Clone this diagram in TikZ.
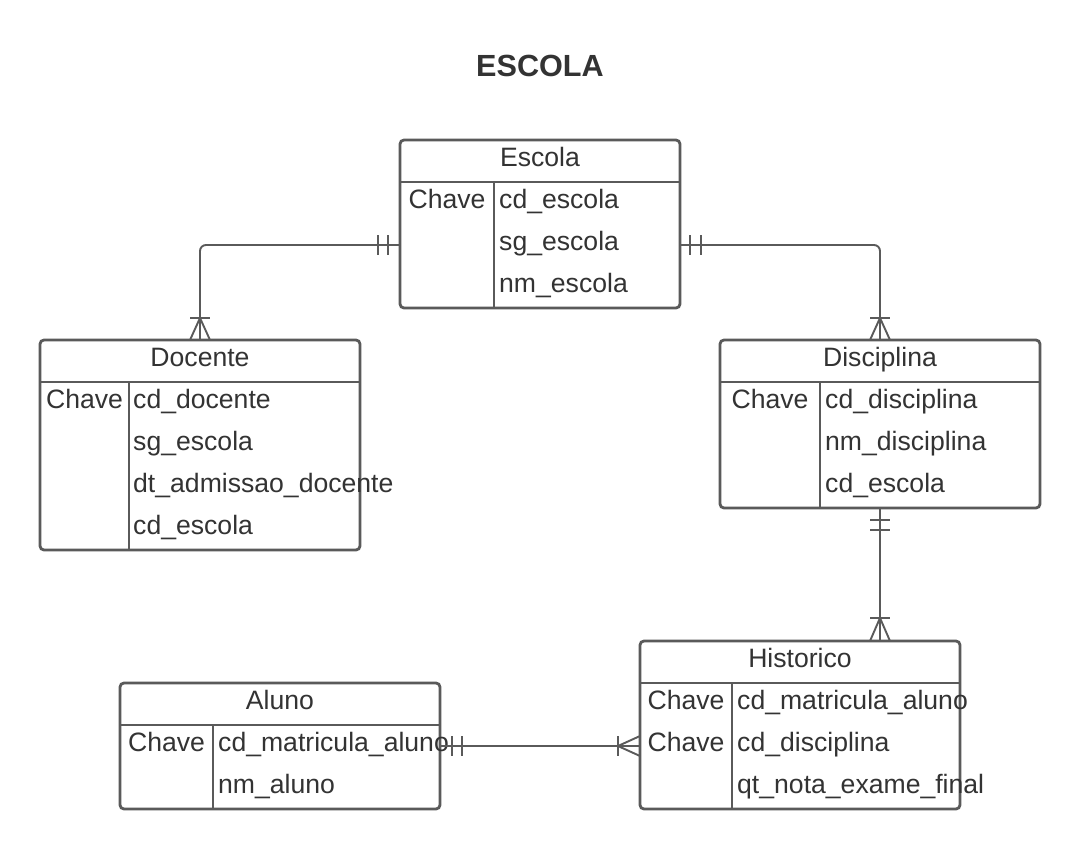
\documentclass[tikz,border=0pt]{standalone}
\usepackage{fontspec}
\setmainfont{Liberation Sans}
\usetikzlibrary{calc}
\definecolor{lc}{HTML}{5A5A5A}
\definecolor{tc}{HTML}{333333}
\begin{document}
\begin{tikzpicture}[x=1pt,y=-1pt,
  ent/.style={draw=lc, line width=2.8pt, rounded corners=4pt, inner sep=0pt, outer sep=0pt, anchor=north west},
  sep/.style={draw=lc, line width=2.8pt},
  hdr/.style={font=\fontsize{26.6}{30}\selectfont, text=tc, anchor=base, inner sep=0pt},
  keyt/.style={font=\fontsize{26.6}{30}\selectfont, text=tc, anchor=base, inner sep=0pt},
  fld/.style={font=\fontsize{26.6}{30}\selectfont, text=tc, anchor=base west, inner sep=0pt},
  rel/.style={draw=lc, line width=1.9pt},
  ttl/.style={font=\fontsize{30.6}{34}\selectfont\bfseries, text=tc, anchor=base, inner sep=0pt}
]
\useasboundingbox[fill=white] (0,0) rectangle (1080,849);

\node[ttl] (title) at (540,76) {ESCOLA};

% Escola
\node[ent, minimum width=280pt, minimum height=168pt] (escola) at (400,140) {};
\draw[sep] (400,182) -- (680,182);
\draw[sep] (494,182) -- (494,308);
\node[hdr] (escolaH) at (540,166) {Escola};
\node[keyt] (escolaK) at (447,208) {Chave};
\node[fld] (escolaF1) at (499,208) {cd\_escola};
\node[fld] (escolaF2) at (499,250) {sg\_escola};
\node[fld] (escolaF3) at (499,292) {nm\_escola};

% Docente
\node[ent, minimum width=320pt, minimum height=210pt] (docente) at (40,340) {};
\draw[sep] (40,382) -- (360,382);
\draw[sep] (129,382) -- (129,550);
\node[hdr] (docenteH) at (200,366) {Docente};
\node[keyt] (docenteK) at (84.5,408) {Chave};
\node[fld] (docenteF1) at (133,408) {cd\_docente};
\node[fld] (docenteF2) at (133,450) {sg\_escola};
\node[fld] (docenteF3) at (133,492) {dt\_admissao\_docente};
\node[fld] (docenteF4) at (133,534) {cd\_escola};

% Disciplina
\node[ent, minimum width=320pt, minimum height=168pt] (disciplina) at (720,340) {};
\draw[sep] (720,382) -- (1040,382);
\draw[sep] (820,382) -- (820,508);
\node[hdr] (disciplinaH) at (880,366) {Disciplina};
\node[keyt] (disciplinaK) at (770,408) {Chave};
\node[fld] (disciplinaF1) at (825,408) {cd\_disciplina};
\node[fld] (disciplinaF2) at (825,450) {nm\_disciplina};
\node[fld] (disciplinaF3) at (825,492) {cd\_escola};

% Historico
\node[ent, minimum width=320pt, minimum height=168pt] (historico) at (640,641) {};
\draw[sep] (640,683) -- (960,683);
\draw[sep] (732,683) -- (732,809);
\node[hdr] (historicoH) at (800,667) {Historico};
\node[keyt] (historicoK1) at (686,709) {Chave};
\node[keyt] (historicoK2) at (686,751) {Chave};
\node[fld] (historicoF1) at (737,709) {cd\_matricula\_aluno};
\node[fld] (historicoF2) at (737,751) {cd\_disciplina};
\node[fld] (historicoF3) at (737,793) {qt\_nota\_exame\_final};

% Aluno
\node[ent, minimum width=320pt, minimum height=126pt] (aluno) at (120,683) {};
\draw[sep] (120,725) -- (440,725);
\draw[sep] (213,725) -- (213,809);
\node[hdr] (alunoH) at (280,709) {Aluno};
\node[keyt] (alunoK) at (166.5,751) {Chave};
\node[fld] (alunoF1) at (218,751) {cd\_matricula\_aluno};
\node[fld] (alunoF2) at (218,793) {nm\_aluno};

% Escola -> Docente
\coordinate (eL) at ($(escola.north west)+(0,105)$);
\draw[rel, rounded corners=6pt] (eL) -| (docente.north);
\draw[rel] ($(eL)+(-12,-10)$) -- ++(0,20);
\draw[rel] ($(eL)+(-22,-10)$) -- ++(0,20);
\coordinate (dT) at ($(docente.north)+(0,-22)$);
\draw[rel] ($(dT)+(-10,0)$) -- ++(20,0);
\draw[rel] (dT) -- ($(docente.north)+(-10,0)$);
\draw[rel] (dT) -- ($(docente.north)+(10,0)$);

% Escola -> Disciplina
\coordinate (eR) at ($(escola.north east)+(0,105)$);
\draw[rel, rounded corners=6pt] (eR) -| (disciplina.north);
\draw[rel] ($(eR)+(10,-10)$) -- ++(0,20);
\draw[rel] ($(eR)+(21,-10)$) -- ++(0,20);
\coordinate (diT) at ($(disciplina.north)+(0,-22)$);
\draw[rel] ($(diT)+(-10,0)$) -- ++(20,0);
\draw[rel] (diT) -- ($(disciplina.north)+(-10,0)$);
\draw[rel] (diT) -- ($(disciplina.north)+(10,0)$);

% Disciplina -> Historico
\coordinate (hT) at (disciplina.south |- historico.north);
\draw[rel] (disciplina.south) -- (hT);
\draw[rel] ($(disciplina.south)+(-10,12)$) -- ++(20,0);
\draw[rel] ($(disciplina.south)+(-10,22)$) -- ++(20,0);
\coordinate (hC) at ($(hT)+(0,-23)$);
\draw[rel] ($(hC)+(-10,0)$) -- ++(20,0);
\draw[rel] (hC) -- ($(hT)+(-10,0)$);
\draw[rel] (hC) -- ($(hT)+(10,0)$);

% Aluno -> Historico
\coordinate (aR) at ($(aluno.north east)+(0,63)$);
\coordinate (hL) at ($(historico.north west)+(0,105)$);
\draw[rel] (aR) -- (hL);
\draw[rel] ($(aR)+(12,-10)$) -- ++(0,20);
\draw[rel] ($(aR)+(22,-10)$) -- ++(0,20);
\coordinate (hLC) at ($(hL)+(-22,0)$);
\draw[rel] ($(hLC)+(0,-10)$) -- ++(0,20);
\draw[rel] (hLC) -- ($(hL)+(0,-10)$);
\draw[rel] (hLC) -- ($(hL)+(0,10)$);
\end{tikzpicture}
\end{document}
